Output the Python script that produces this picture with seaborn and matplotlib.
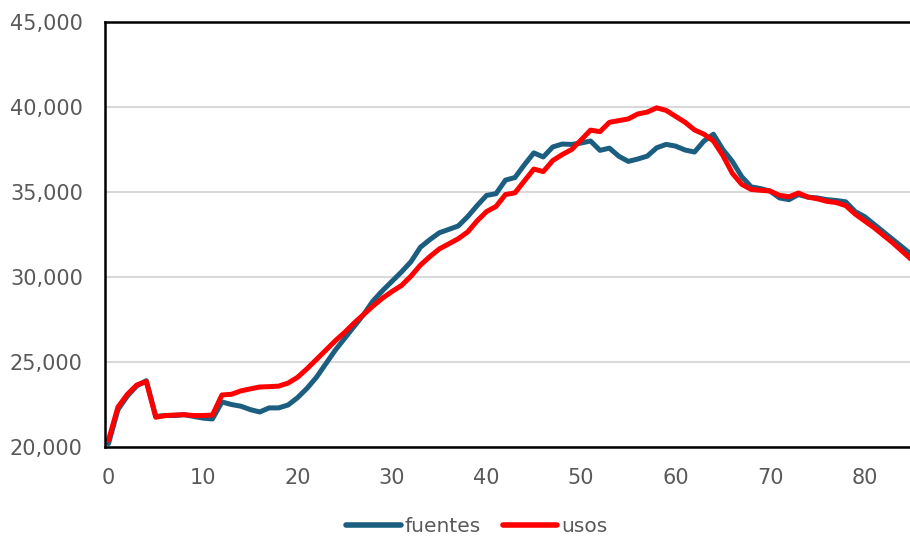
import numpy as np
import pandas as pd
import matplotlib
matplotlib.use("Agg")
import matplotlib.pyplot as plt
import seaborn as sns
from matplotlib.ticker import FuncFormatter

# Series
periodo = list(range(86))

fuentes = [20200, 22200, 23000, 23600, 23900, 21800, 21850, 21850, 21900, 21800,
           21700, 21650, 22650, 22500, 22400, 22200, 22060, 22300, 22300, 22470,
           22900, 23450, 24100, 24900, 25700, 26400, 27100, 27800, 28600, 29200,
           29750, 30300, 30900, 31750, 32200, 32600, 32800, 33000, 33550, 34200,
           34800, 34900, 35700, 35850, 36600, 37300, 37060, 37650, 37820, 37800,
           37880, 38000, 37450, 37580, 37100, 36800, 36940, 37110, 37600, 37800,
           37700, 37470, 37350, 38000, 38400, 37500, 36800, 35900, 35300, 35200,
           35050, 34650, 34550, 34850, 34700, 34650, 34550, 34500, 34420, 33850,
           33550, 33100, 32650, 32200, 31750, 31300]

usos = [20400, 22350, 23100, 23650, 23850, 21750, 21850, 21880, 21900, 21850,
        21850, 21880, 23060, 23100, 23300, 23420, 23530, 23550, 23580, 23760,
        24100, 24600, 25150, 25700, 26250, 26750, 27300, 27800, 28300, 28760,
        29150, 29500, 30050, 30700, 31200, 31650, 31950, 32250, 32650, 33300,
        33850, 34150, 34850, 34950, 35650, 36350, 36200, 36850, 37200, 37500,
        38060, 38640, 38550, 39100, 39200, 39300, 39590, 39700, 39950, 39800,
        39450, 39100, 38650, 38400, 38000, 37150, 36100, 35450, 35150, 35100,
        35060, 34800, 34720, 34940, 34700, 34600, 34450, 34380, 34200, 33700,
        33300, 32900, 32450, 32000, 31500, 31000]

series_names = ["fuentes", "usos"]
series_colors = ["#1B5E80", "#FF0000"]

df = pd.DataFrame({"periodo": periodo, "fuentes": fuentes, "usos": usos})
long_df = df.melt(id_vars="periodo", var_name="serie", value_name="valor")

sns.set_style("white")
plt.rcParams["font.family"] = ["DejaVu Sans"]

fig = plt.figure(figsize=(9.1, 5.39), dpi=100)
ax = fig.add_axes([105 / 910, (539 - 447) / 539, (910 - 105) / 910, 425 / 539])

sns.lineplot(data=long_df, x="periodo", y="valor", hue="serie",
             hue_order=series_names, palette=series_colors,
             linewidth=3.6, ax=ax, legend=False)

ax.set_xlim(-0.37, 84.8)
ax.set_ylim(20000, 45000)
ax.set_xticks(range(0, 81, 10))
ax.set_yticks(range(20000, 45001, 5000))
ax.yaxis.set_major_formatter(FuncFormatter(lambda v, p: f"{int(v):,}"))
ax.grid(axis="y", color="#D9D9D9", linewidth=1.5)
ax.set_axisbelow(True)
ax.set_xlabel("")
ax.set_ylabel("")

for side in ["left", "top", "bottom"]:
    ax.spines[side].set_color("black")
    ax.spines[side].set_linewidth(1.8)
ax.spines["right"].set_visible(False)

ax.tick_params(axis="y", length=0, pad=16, labelsize=15, labelcolor="#595959")
ax.tick_params(axis="x", length=0, pad=15, labelsize=15, labelcolor="#595959")

handles = [plt.Line2D([], [], color=c, linewidth=4, solid_capstyle="round")
           for c in series_colors]
fig.legend(handles, series_names, loc="center", bbox_to_anchor=(477 / 910, 1 - 527 / 539),
           ncol=2, frameon=False, fontsize=14.5, handlelength=2.7, handletextpad=0.2,
           columnspacing=1.1, borderpad=0, labelcolor="#595959")

fig.savefig("out.png", dpi=100)
